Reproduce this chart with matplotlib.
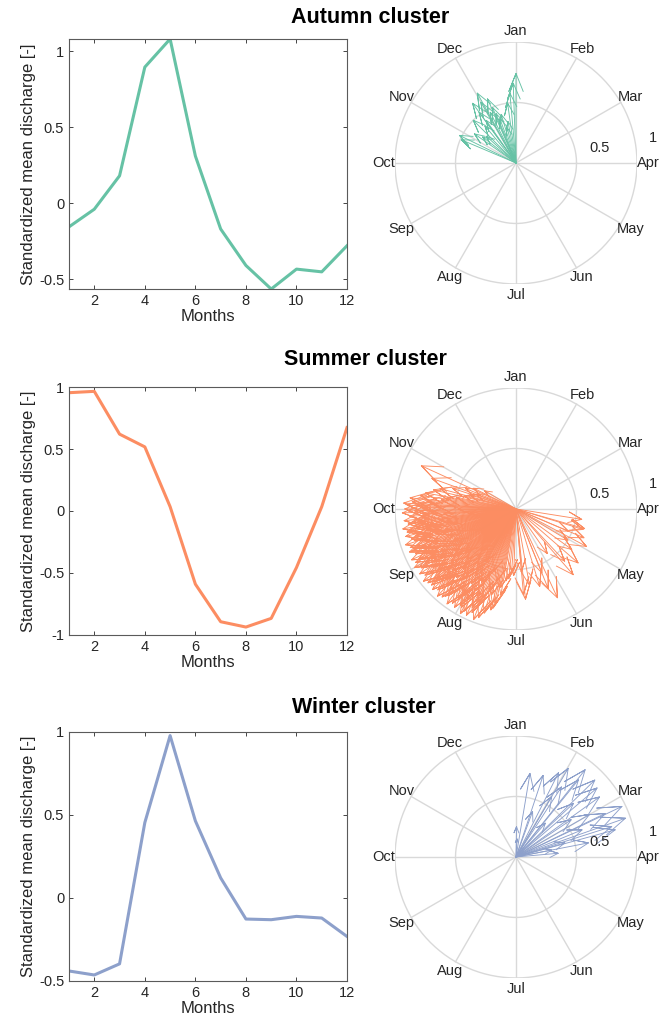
import numpy as np
import matplotlib.pyplot as plt

plt.rcParams['font.family'] = ['Liberation Sans', 'DejaVu Sans']

months = np.arange(1, 13)
month_names = ['Jan', 'Feb', 'Mar', 'Apr', 'May', 'Jun',
               'Jul', 'Aug', 'Sep', 'Oct', 'Nov', 'Dec']

# mean standardized discharge per cluster
autumn_q = [-0.156, -0.04, 0.18, 0.895, 1.08, 0.31, -0.17, -0.41, -0.565, -0.434, -0.452, -0.28]
summer_q = [0.954, 0.965, 0.62, 0.517, 0.035, -0.59, -0.893, -0.936, -0.866, -0.456, 0.035, 0.673]
winter_q = [-0.44, -0.464, -0.397, 0.454, 0.978, 0.464, 0.121, -0.127, -0.131, -0.111, -0.121, -0.232]

# compass vectors: direction (deg clockwise from Jan) and length
autumn_ang = [0, -2, -5, -29, -30, -36, -24, -45, -64, -67, -52, -22, -20, -23,
              -11, -36, -35, -17, -8, -40, -55, -27, -14, -48]
autumn_len = [0.74, 0.66, 0.58, 0.66, 0.58, 0.61, 0.58, 0.50, 0.52, 0.49, 0.35, 0.44, 0.39, 0.50,
              0.35, 0.52, 0.43, 0.42, 0.50, 0.40, 0.42, 0.47, 0.30, 0.33]

summer_ang = [99, 106, 107, 113, 113, 118, 121, 126, 131, 137, 139, 145, 155, 158, 158, 163,
              170, 174, 175, 175, 184, 188,
              190, 192, 194, 197, 199, 201, 203, 205, 207, 208, 210, 212, 214, 216, 218, 220,
              222, 224, 226, 228, 230, 232, 234, 236, 238, 240, 242, 244, 246, 248, 250, 252,
              254, 256, 258, 260, 262, 264, 266, 268, 270, 272, 274, 276, 278, 280, 283, 285,
              288, 292, 296, 300, 294.5, 290,
              195, 198, 200, 203, 206, 209, 211, 213, 215, 217, 219, 221, 223, 225, 227, 229,
              231, 233, 235, 237, 239, 241, 243, 245, 247, 249, 251, 253, 255, 257, 259, 261,
              263, 265, 267, 269, 271, 273, 275, 277, 279, 281, 284, 287, 290, 210, 220, 230,
              240, 250, 260, 270, 225, 245, 265, 235, 255,
              204, 213, 223, 233, 243, 253, 263, 209, 219, 229, 239, 249, 259, 269, 273,
              202, 207, 212, 217, 222, 227, 232, 237, 242, 247, 252, 257, 262, 267, 272,
              205, 211, 216, 221, 226, 231, 236, 241, 246, 251, 256, 261, 266, 200, 196,
              214, 224, 234, 244, 254, 218, 228, 238, 248, 258, 193, 191, 186, 182]
summer_len = [0.55, 0.59, 0.58, 0.61, 0.47, 0.66, 0.50, 0.57, 0.68, 0.59, 0.72, 0.45, 0.81, 0.71, 0.57, 0.67,
              0.64, 0.75, 0.71, 0.52, 0.52, 0.60,
              0.72, 0.80, 0.86, 0.90, 0.95, 0.98, 0.93, 0.97, 0.95, 0.98, 0.92, 0.96, 0.94, 0.97, 0.91, 0.95,
              0.97, 0.93, 0.96, 0.90, 0.95, 0.97, 0.93, 0.96, 0.92, 0.97, 0.94, 0.96, 0.91, 0.95, 0.93, 0.96,
              0.90, 0.94, 0.92, 0.95, 0.90, 0.93, 0.88, 0.94, 0.92, 0.90, 0.86, 0.88, 0.80, 0.76, 0.70, 0.65,
              0.55, 0.45, 0.39, 0.30, 0.86, 0.74,
              0.62, 0.70, 0.55, 0.78, 0.66, 0.84, 0.72, 0.60, 0.80, 0.68, 0.86, 0.75, 0.63, 0.82, 0.70, 0.88,
              0.77, 0.65, 0.84, 0.72, 0.87, 0.79, 0.68, 0.85, 0.74, 0.88, 0.80, 0.70, 0.86, 0.76, 0.84, 0.72,
              0.82, 0.78, 0.70, 0.84, 0.76, 0.68, 0.74, 0.62, 0.58, 0.50, 0.44, 0.40, 0.35, 0.50, 0.45, 0.55,
              0.60, 0.52, 0.58, 0.48, 0.40, 0.42, 0.38, 0.35, 0.30,
              0.89, 0.88, 0.90, 0.89, 0.90, 0.88, 0.86, 0.93, 0.93, 0.92, 0.93, 0.91, 0.90, 0.89, 0.93,
              0.83, 0.76, 0.81, 0.73, 0.85, 0.78, 0.82, 0.75, 0.86, 0.79, 0.83, 0.74, 0.80, 0.77, 0.82,
              0.67, 0.64, 0.71, 0.66, 0.73, 0.69, 0.62, 0.71, 0.66, 0.64, 0.69, 0.63, 0.60, 0.78, 0.74,
              0.56, 0.58, 0.62, 0.57, 0.61, 0.91, 0.94, 0.90, 0.92, 0.89, 0.84, 0.66, 0.58, 0.55]

winter_ang = [9.5, 18.4, 1, 26.8, 30.5, 38.4, 45.7, 49.6, 54.3, 64.5, 70.5, 72.4, 79, 74,
              41, 30.6, 33, 39, 64, 74.7, 67.7, 79, 56, 3, 20, 85, 60, 47]
winter_len = [0.70, 0.71, 0.25, 0.78, 0.85, 0.92, 0.91, 0.88, 0.85, 0.97, 0.96, 0.83, 0.61, 0.42,
              0.37, 0.58, 0.69, 0.82, 0.82, 0.85, 0.59, 0.30, 0.55, 0.15, 0.40, 0.35, 0.70, 0.65]

green = '#66c2a5'
orange = '#fc8d62'
blue = '#8da0cb'


def line_panel(ax, q, color, ylim, yticks):
    ax.plot(months, q, color=color, lw=2.2)
    ax.set_xlim(1, 12)
    ax.set_ylim(*ylim)
    ax.set_xticks([2, 4, 6, 8, 10, 12])
    ax.set_yticks(yticks)
    ax.set_yticklabels(['%g' % t for t in yticks])
    ax.tick_params(direction='in', top=True, right=True, labelsize=10.5,
                   colors='#262626', length=3, width=0.6)
    for s in ax.spines.values():
        s.set_color('#5a5a5a')
        s.set_linewidth(0.8)
    ax.set_xlabel('Months', fontsize=12, color='#262626', labelpad=1)
    ax.set_ylabel('Standardized mean discharge [-]', fontsize=12, color='#262626', labelpad=2)


def compass_panel(ax, ang, mag, color):
    grid = '#d9d9d9'
    t = np.linspace(0, 2 * np.pi, 361)
    for r in (0.5, 1.0):
        ax.plot(r * np.cos(t), r * np.sin(t), color=grid, lw=1)
    for i, name in enumerate(month_names):
        a = np.deg2rad(90 - 30 * i)
        ax.plot([0, np.cos(a)], [0, np.sin(a)], color=grid, lw=1)
        ax.text(1.09 * np.cos(a), 1.09 * np.sin(a), name, ha='center', va='center',
                fontsize=10.5, color='#262626', clip_on=False)
    a = np.deg2rad(90 - 79.5)
    ax.text(0.70 * np.cos(a), 0.70 * np.sin(a), '0.5', ha='center', va='center',
            fontsize=10.5, color='#262626')
    ax.text(1.15 * np.cos(a), 1.15 * np.sin(a), '1', ha='center', va='center',
            fontsize=10.5, color='#262626', clip_on=False)
    # arrows drawn like matlab compass: shaft plus open head
    z = np.asarray(mag) * np.exp(1j * np.deg2rad(90 - np.asarray(ang)))
    head = np.array([0, 1, 0.8 + 0.08j, 1, 0.8 - 0.08j])
    pts = np.outer(head, z)
    ax.plot(pts.real, pts.imag, color=color, lw=0.65)
    ax.set_xlim(-1, 1)
    ax.set_ylim(-1, 1)
    ax.set_aspect('equal')
    ax.axis('off')


fig = plt.figure(figsize=(6.61, 10.26), dpi=100)

rows = [
    ('Autumn cluster', autumn_q, autumn_ang, autumn_len, green, (-0.565, 1.08), [-0.5, 0, 0.5, 1],
     0.7183, 0.2437, 0.7232, 370, 22.7),
    ('Summer cluster', summer_q, summer_ang, summer_len, orange, (-1, 1), [-1, -0.5, 0, 0.5, 1],
     0.3811, 0.2417, 0.386, 365, 365),
    ('Winter cluster', winter_q, winter_ang, winter_len, blue, (-0.5, 1), [-0.5, 0, 0.5, 1],
     0.0439, 0.2427, 0.0468, 364, 713),
]

for title, q, ang, mag, color, ylim, yt, lb, lh, cb, tx, ty in rows:
    ax = fig.add_axes([0.1044, lb, 0.4206, lh])
    line_panel(ax, q, color, ylim, yt)
    cax = fig.add_axes([0.5976, cb, 0.3661, 0.2359])
    compass_panel(cax, ang, mag, color)
    fig.text(tx / 661, 1 - ty / 1026, title, ha='center', va='baseline',
             fontsize=15.5, fontweight='bold')

fig.savefig('out.png', dpi=100)
